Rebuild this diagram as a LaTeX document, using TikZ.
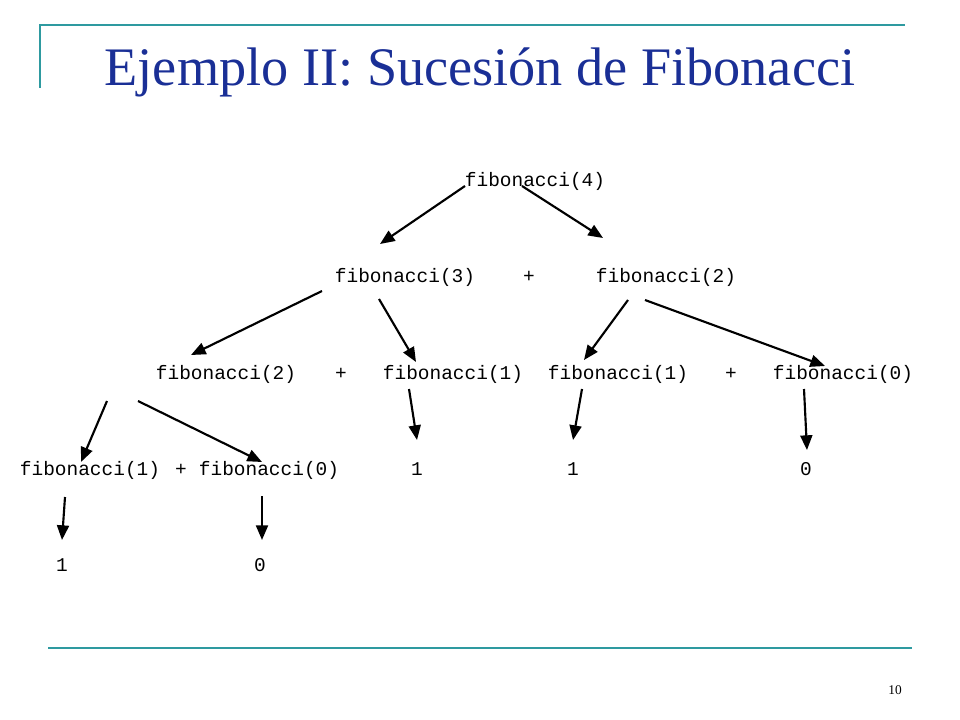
\documentclass[tikz,border=0pt]{standalone}
\usepackage{fontspec}
\setmainfont{Liberation Serif}
\setmonofont{Liberation Mono}
\usetikzlibrary{arrows.meta}
\definecolor{teal1}{HTML}{2E9AA0}
\definecolor{ttl}{HTML}{1A2F96}
\tikzset{
  code/.style={font=\ttfamily\fontsize{14.6}{16}\selectfont, inner sep=0pt, anchor=base},
  arr/.style={line width=1.6pt, -{Triangle[length=11pt,width=9pt]}},
  deco/.style={teal1, line width=1.5pt}
}
\begin{document}
\begin{tikzpicture}[x=0.75pt,y=-0.75pt]
\useasboundingbox (0,0) rectangle (960,720);
\draw[deco] (40,88) -- (40,25) -- (905,25);
\draw[deco] (48,648) -- (912,648);
\node[ttl, font=\fontsize{40.7}{46}\selectfont, anchor=base] (title) at (480,86) {Ejemplo II: Sucesión de Fibonacci};
\node[font=\fontsize{10}{11}\selectfont, anchor=base] (pg) at (895,694) {10};

\node[code] (f4) at (535,187) {fibonacci(4)};
\node[code] (f3) at (405,283) {fibonacci(3)};
\node[code] (p1) at (529,283) {+};
\node[code] (f2) at (666,283) {fibonacci(2)};
\node[code] (f2b) at (226,379) {fibonacci(2)};
\node[code] (p2) at (341,379) {+};
\node[code] (f1a) at (453,379) {fibonacci(1)};
\node[code] (f1b) at (618,379) {fibonacci(1)};
\node[code] (p3) at (731,379) {+};
\node[code] (f0a) at (843,379) {fibonacci(0)};
\node[code] (f1c) at (90,475) {fibonacci(1)};
\node[code] (p4) at (181,475) {+};
\node[code] (f0b) at (269,475) {fibonacci(0)};
\node[code] (r1) at (417,475) {1};
\node[code] (r2) at (573,475) {1};
\node[code] (r3) at (806,475) {0};
\node[code] (r4) at (62,571) {1};
\node[code] (r5) at (260,571) {0};

\draw[arr] (465,186) -- (380,244);
\draw[arr] (522,186) -- (603,238);
\draw[arr] (322,291) -- (191,355);
\draw[arr] (379,299) -- (416,362);
\draw[arr] (628,300) -- (584,360);
\draw[arr] (645,300) -- (825,366);
\draw[arr] (107,401) -- (81,462);
\draw[arr] (138,401) -- (262,462);
\draw[arr] (409,389) -- (417,440);
\draw[arr] (582,389) -- (573,440);
\draw[arr] (804,389) -- (807,450);
\draw[arr] (65,497) -- (62,540);
\draw[arr] (262,496) -- (262,540);
\end{tikzpicture}
\end{document}
